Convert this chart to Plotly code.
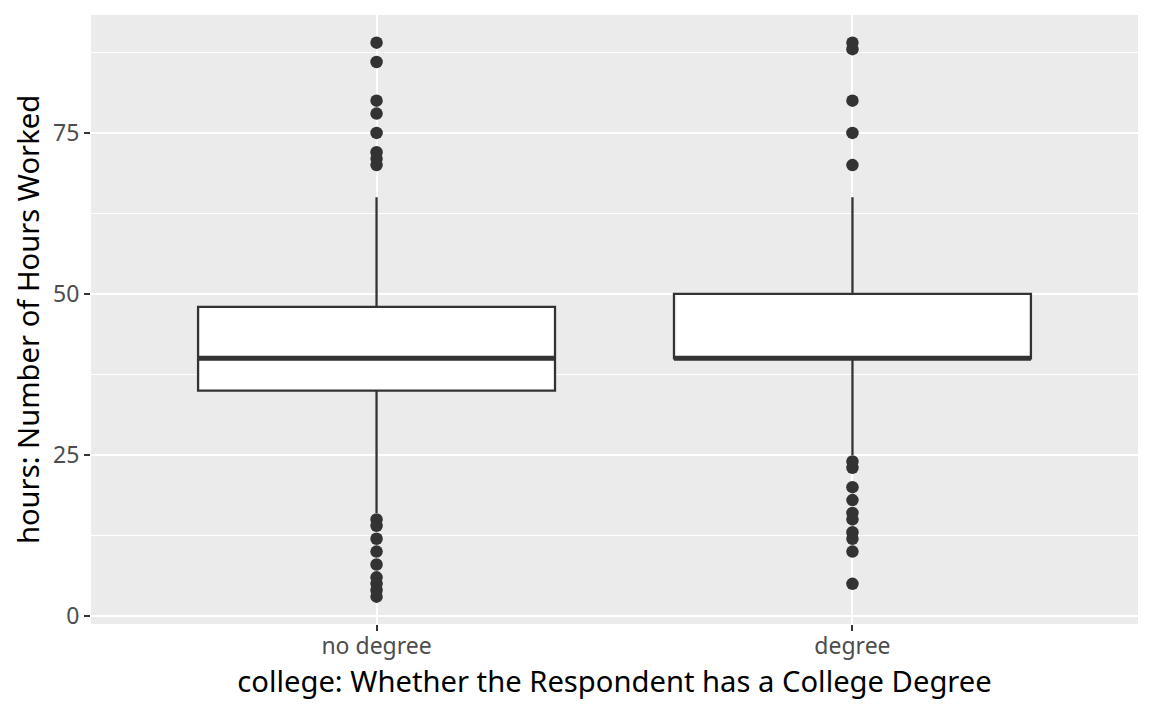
import plotly.graph_objects as go

categories = ["no degree", "degree"]
q1 = [35, 40]
median = [40, 40]
q3 = [48, 50]
lower_whisker = [16, 25]
upper_whisker = [65, 65]
outliers_no_degree = [89, 86, 80, 78, 75, 72, 71, 70, 15, 14, 12, 10, 8, 6, 5, 4, 3]
outliers_degree = [89, 88, 80, 75, 70, 24, 23, 20, 18, 16, 15, 13, 12, 10, 5]
y_ticks = [0, 25, 50, 75]

outliers = [outliers_no_degree, outliers_degree]
xpos = [1, 2]
box_w = 0.75
dark = "#333333"

fig = go.Figure()
for i, cat in enumerate(categories):
    fig.add_trace(go.Box(
        x=[xpos[i]], q1=[q1[i]], median=[median[i]], q3=[q3[i]],
        lowerfence=[lower_whisker[i]], upperfence=[upper_whisker[i]],
        width=box_w, fillcolor="white", line=dict(color=dark, width=2.3),
        whiskerwidth=0, boxpoints=False, showlegend=False, hoverinfo="skip",
    ))
    fig.add_trace(go.Scatter(
        x=[xpos[i] - box_w / 2, xpos[i] + box_w / 2], y=[median[i], median[i]],
        mode="lines", line=dict(color=dark, width=5), showlegend=False,
        hoverinfo="skip",
    ))
    fig.add_trace(go.Scatter(
        x=[xpos[i]] * len(outliers[i]), y=outliers[i], mode="markers",
        marker=dict(color=dark, size=12.5), showlegend=False,
    ))

font = "Noto Sans"
fig.update_layout(
    width=1136, height=695,
    margin=dict(l=83, r=6, t=7, b=79),
    paper_bgcolor="white", plot_bgcolor="#EBEBEB",
    font=dict(family=font, color="black"),
)
fig.update_xaxes(
    range=[0.4, 2.6], tickvals=xpos, ticktext=categories,
    showgrid=True, gridcolor="white", gridwidth=2.2, zeroline=False,
    ticks="outside", ticklen=6, tickwidth=2, tickcolor=dark,
    ticklabelstandoff=-5,
    tickfont=dict(size=23, color="#4D4D4D", family=font),
    title=dict(text="college: Whether the Respondent has a College Degree",
               font=dict(size=29.2, color="black", family=font), standoff=1),
)
fig.update_yaxes(
    range=[-1.24, 93.3], tickvals=y_ticks,
    showgrid=True, gridcolor="white", gridwidth=2.2, zeroline=False,
    ticks="outside", ticklen=6, tickwidth=2, tickcolor=dark,
    tickfont=dict(size=23, color="#4D4D4D", family=font),
    minor=dict(dtick=12.5, tick0=0, showgrid=True, gridcolor="white", gridwidth=1.1, ticks=""),
    title=dict(text="hours: Number of Hours Worked",
               font=dict(size=29.2, color="black", family=font), standoff=9),
)
fig.write_html("out.html")
